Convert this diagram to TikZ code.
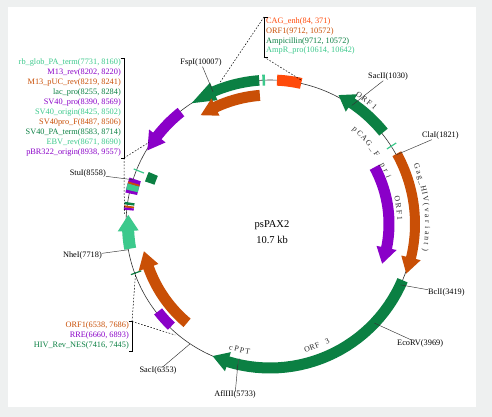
\documentclass[tikz,border=0pt]{standalone}
\usepackage{fontspec}
\setmainfont{Liberation Serif}
\definecolor{pageg}{HTML}{EEF0F0}
\definecolor{dgreen}{HTML}{0B8043}
\definecolor{lgreen}{HTML}{3CC98C}
\definecolor{pur}{HTML}{8A00C8}
\definecolor{rust}{HTML}{C94F06}
\definecolor{redor}{HTML}{FF4A0A}
\definecolor{backb}{HTML}{333333}
\newcommand{\farrow}[7]{% colour, radius, tail, head base, tip, body width, head width
  \fill[#1] plot[domain=#3:#4,samples=30] ({\x-90}:{#2+#6/2})
    -- ({#4-90}:{#2+#7/2}) -- ({#5-90}:{#2}) -- ({#4-90}:{#2-#7/2})
    -- plot[domain=#4:#3,samples=30] ({\x-90}:{#2-#6/2}) -- cycle;}
\newcommand{\fband}[5]{% colour, radius, from, to, width
  \fill[#1] plot[domain=#3:#4,samples=10] ({\x-90}:{#2+#5/2})
    -- plot[domain=#4:#3,samples=10] ({\x-90}:{#2-#5/2}) -- cycle;}
\newcommand{\arclabel}[6]{% prefix, radius, start, step, rotation base, letters
  \foreach \ch [count=\i from 0] in {#6}{
    \pgfmathsetmacro\aa{#3+\i*(#4)}
    \pgfmathsetmacro\th{\aa-90}
    \pgfmathsetmacro\rr{#5-\aa}
    \node[lett,rotate=\rr] (#1\i) at (\th:#2) {\ch};
  }}
\tikzset{
  lab/.style={font=\fontsize{8.3}{9}\selectfont,inner sep=0pt,text height=5.4pt,text depth=1.6pt},
  lett/.style={font=\fontsize{7.8}{9}\selectfont,inner sep=0pt,text height=5pt,text depth=1.5pt,text=black!85},
  lead/.style={draw=black!80,line width=0.45pt},
  dot/.style={draw=black,line width=0.5pt,dash pattern=on 1.6pt off 1.6pt},
  brk/.style={draw=black,line width=0.7pt},
  tickl/.style={line width=1.2pt}
}
\begin{document}
\begin{tikzpicture}[x=1pt,y=-1pt]
\useasboundingbox (0,0) rectangle (492,417);
\fill[pageg] (0,0) rectangle (492,417);
\fill[white] (8,7) rectangle (476,407);
\begin{scope}[shift={(270,224)}]
  % backbone
  \draw[backb,line width=0.6pt] (0,0) ++(-90:144) plot[domain=0:360,samples=180] ({\x-90}:144);
  % site coordinates
  \coordinate (sSacII) at (34.6-90:144);
  \coordinate (sClaI) at (61.3-90:144);
  \coordinate (sBclI) at (115-90:144);
  \coordinate (sEcoRV) at (133.5-90:144);
  \coordinate (sAflIII) at (192.9-90:144);
  \coordinate (sSacI) at (213.7-90:144);
  \coordinate (sNheI) at (259.7-90:144);
  \coordinate (sStuI) at (287.9-90:144);
  \coordinate (sFspI) at (336.7-90:144);
  \coordinate (fAmp) at (340.5-90:150);
  \coordinate (fEnh) at (12.5-90:147);
  \coordinate (fPbr) at (304-90:146);
  \coordinate (fRb) at (274-90:146);
  \coordinate (fRre) at (220.5-90:146);
  \coordinate (fNes) at (250-90:143);
  % features
  \farrow{dgreen}{144}{113}{197}{203.5}{11}{20}
  \farrow{rust}{145}{61}{103.5}{110}{10}{20}
  \farrow{pur}{119}{61.5}{101.6}{109.5}{11}{20.5}
  \farrow{dgreen}{146}{51}{34}{28}{11}{21}
  \farrow{dgreen}{144}{355.7}{337}{327}{10.5}{19}
  \farrow{rust}{129}{355.5}{335}{327.5}{11}{19}
  \farrow{pur}{143}{321.5}{308}{301}{10.7}{21}
  \farrow{lgreen}{142}{260}{267.2}{273.7}{12}{21}
  \farrow{rust}{129}{220}{250.3}{257.8}{11}{21}
  \fband{redor}{144}{2.8}{12.5}{11}
  \fband{dgreen}{127}{288.8}{293.2}{10}
  \fband{pur}{142}{224}{232}{10}
  \fband{pur}{142}{282.3}{288.3}{12}
  \fband{lgreen}{142}{283.5}{286}{12}
  \fband{rust}{142}{286}{286.7}{12}
  \fband{dgreen}{142}{277.7}{278.7}{10}
  \fband{rust}{142}{276.5}{277.3}{10}
  \fband{pur}{142}{275.6}{276.5}{10}
  \fband{lgreen}{144}{357}{358}{11}
  % ticks
  \draw[lgreen,tickl] (57.3-90:139) -- (57.3-90:150);
  \draw[lgreen,tickl] (292-90:136) -- (292-90:147);
  \draw[dgreen,tickl] (250-90:137) -- (250-90:148);
  \draw[black!70,line width=0.4pt] (192.9-90:138) -- (192.9-90:150);
  % curved labels
  \arclabel{a}{156}{34.6}{2.4}{0}{O,R,F,1}
  \arclabel{b}{127}{41.8}{2.95}{0}{p,C,A,G,\_,F,{ },p,r,i}
  \arclabel{c}{129}{79}{2.9}{0}{O,R,F,1}
  \arclabel{d}{157}{68.7}{2.05}{0}{G,a,g,\_,H,I,V,{(},v,a,r,i,a,n,t,{)}}
  \arclabel{e}{131}{163.5}{-2.4}{180}{O,R,F,{ },3}
  \arclabel{f}{130}{197.5}{-2.5}{180}{c,P,P,T}
\end{scope}
% centre
\node[font=\fontsize{10.5}{12}\selectfont,inner sep=0pt] (nName) at (272,225) {psPAX2};
\node[font=\fontsize{10.5}{12}\selectfont,inner sep=0pt] (nSize) at (272,240) {10.7 kb};
% site labels
\node[lab] (lFspI) at (201,63) {FspI(10007)};
\node[lab,anchor=west] (lSacII) at (368,77) {SacII(1030)};
\node[lab,anchor=west] (lClaI) at (422,136) {ClaI(1821)};
\node[lab,anchor=west] (lBclI) at (428,293) {BclI(3419)};
\node[lab,anchor=west] (lEcoRV) at (397,344) {EcoRV(3969)};
\node[lab] (lAflIII) at (235,395) {AflIII(5733)};
\node[lab] (lSacI) at (158,371) {SacI(6353)};
\node[lab,anchor=east] (lNheI) at (102,256) {NheI(7718)};
\node[lab,anchor=east] (lStuI) at (106,174) {StuI(8558)};
\draw[lead] (lFspI) -- (sFspI);
\draw[lead] (lSacII) -- (sSacII);
\draw[lead] (lClaI) -- (sClaI);
\draw[lead] (lBclI) -- (sBclI);
\draw[lead] (lEcoRV) -- (sEcoRV);
\draw[lead] (lAflIII) -- (sAflIII);
\draw[lead] (lSacI) -- (sSacI);
\draw[lead] (lNheI) -- (sNheI);
\draw[lead] (lStuI) -- (sStuI);
% left list
\foreach \t/\c [count=\n from 0] in {
  rb\_glob\_PA\_term(7731{,} 8160)/lgreen,
  M13\_rev(8202{,} 8220)/pur,
  M13\_pUC\_rev(8219{,} 8241)/rust,
  lac\_pro(8255{,} 8284)/dgreen,
  SV40\_pro(8390{,} 8569)/pur,
  SV40\_origin(8425{,} 8502)/lgreen,
  SV40pro\_F(8487{,} 8506)/rust,
  SV40\_PA\_term(8583{,} 8714)/dgreen,
  EBV\_rev(8671{,} 8690)/lgreen,
  pBR322\_origin(8938{,} 9557)/pur}{
  \node[lab,anchor=east,text=\c] (left\n) at (121,{63+10*\n}) {\t};
}
% top list
\node[lab,anchor=west,text=redor] (top0) at (266,22) {CAG\_enh(84, 371)};
\node[lab,anchor=west,text=rust] (top1) at (266,32) {ORF1(9712, 10572)};
\node[lab,anchor=west,text=dgreen] (top2) at (266,41.5) {Ampicillin(9712, 10572)};
\node[lab,anchor=west,text=lgreen] (top3) at (266,51) {AmpR\_pro(10614, 10642)};
% bottom list
\node[lab,anchor=east,text=rust] (bot0) at (129,326) {ORF1(6538, 7686)};
\node[lab,anchor=east,text=pur] (bot1) at (129,336) {RRE(6660, 6893)};
\node[lab,anchor=east,text=dgreen] (bot2) at (129,346) {HIV\_Rev\_NES(7416, 7445)};
% brackets
\coordinate (bLa) at (124,58.5);
\coordinate (bLb) at (124,158);
\coordinate (bTa) at (264,17);
\coordinate (bTb) at (264,57);
\coordinate (bBa) at (132,321.5);
\coordinate (bBb) at (132,351);
\draw[brk] (120.5,58.5) -- (bLa) -- (bLb) -- (120.5,158);
\draw[brk] (267.5,17) -- (bTa) -- (bTb) -- (267.5,57);
\draw[brk] (128.5,321.5) -- (bBa) -- (bBb) -- (128.5,351);
% dotted leaders
\draw[dot] (bTa) -- (fAmp);
\draw[dot] (bTb) -- (fEnh);
\draw[dot] (bLb) -- (fPbr);
\draw[dot] (bLb) -- (fRb);
\draw[dot] (bBa) -- (fRre);
\draw[dot] (bBa) -- (fNes);
\end{tikzpicture}
\end{document}
